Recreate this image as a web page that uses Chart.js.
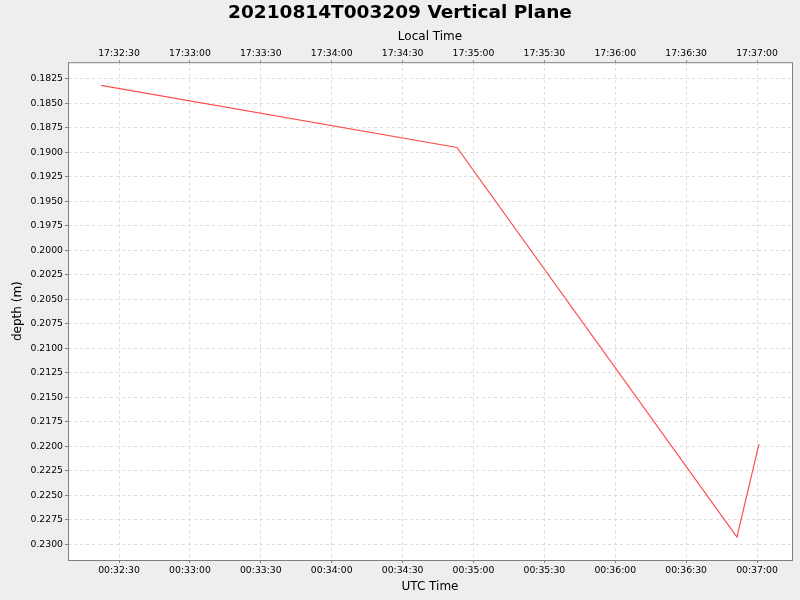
<!DOCTYPE html>
<html>
<head>
<meta charset="utf-8">
<script src="https://cdn.jsdelivr.net/npm/chart.js@4"></script>
<style>
  html, body { margin: 0; padding: 0; background: #eeeeee; }
  #wrap { width: 800px; height: 600px; }
</style>
</head>
<body>
<div id="wrap"><canvas id="myChart" width="800" height="600"></canvas></div>
<script>
// data
var utcTimes = ['00:32:22.4', '00:34:53.0', '00:36:51.5', '00:37:00.8'];
var depths = [0.18317, 0.18950, 0.22927, 0.21978];

var xTickLabels = ['00:32:30', '00:33:00', '00:33:30', '00:34:00', '00:34:30', '00:35:00', '00:35:30', '00:36:00', '00:36:30', '00:37:00'];
var yTickLabels = ['0.1825', '0.1850', '0.1875', '0.1900', '0.1925', '0.1950', '0.1975', '0.2000', '0.2025', '0.2050', '0.2075', '0.2100', '0.2125', '0.2150', '0.2175', '0.2200', '0.2225', '0.2250', '0.2275', '0.2300'];
var localOffsetHours = 17;

var xMin = '00:32:08.4';
var xMax = '00:37:14.8';
var yMin = 0.1808;
var yMax = 0.2316;

function toSec(s) {
    var p = s.split(':');
    return (+p[0]) * 3600 + (+p[1]) * 60 + parseFloat(p[2]);
}
function pad(n) { return (n < 10 ? '0' : '') + n; }
function fmt(sec, offH) {
    sec = Math.round(sec) + offH * 3600;
    var h = Math.floor(sec / 3600) % 24, m = Math.floor(sec / 60) % 60, s = sec % 60;
    return pad(h) + ':' + pad(m) + ':' + pad(s);
}

var points = utcTimes.map(function(t, i) {
    return { x: toSec(t), y: depths[i] };
});

var font = 'DejaVu Sans';
var tickSize = 9.3;

var plotBg = {
    id: 'plotBg',
    beforeDraw: function(chart) {
        var a = chart.chartArea, ctx = chart.ctx;
        ctx.save();
        ctx.fillStyle = '#ffffff';
        ctx.fillRect(a.left, a.top, a.right - a.left, a.bottom - a.top);
        ctx.restore();
    },
    afterDraw: function(chart) {
        var a = chart.chartArea, ctx = chart.ctx;
        ctx.save();
        ctx.strokeStyle = '#808080';
        ctx.lineWidth = 1;
        ctx.strokeRect(a.left + 0.5, a.top + 0.5, a.right - a.left, a.bottom - a.top);
        ctx.restore();
    }
};

var ctx = document.getElementById('myChart').getContext('2d');
var myChart = new Chart(ctx, {
    type: 'line',
    data: {
        datasets: [{
            label: 'depth',
            data: points,
            borderColor: '#ff4d4d',
            borderWidth: 1.2,
            pointRadius: 0,
            tension: 0,
            fill: false
        }]
    },
    plugins: [plotBg],
    options: {
        responsive: false,
        animation: false,
        layout: { padding: 0 },
        plugins: {
            legend: { display: false },
            tooltip: { enabled: false },
            title: {
                display: true,
                text: '20210814T003209 Vertical Plane',
                color: '#000000',
                font: { family: font, size: 18.5, weight: 'bold' },
                padding: { top: 2, bottom: 0 }
            }
        },
        scales: {
            x: {
                type: 'linear',
                position: 'bottom',
                min: toSec(xMin),
                max: toSec(xMax),
                afterBuildTicks: function(scale) {
                    scale.ticks = xTickLabels.map(function(l) { return { value: toSec(l) }; });
                },
                afterFit: function(scale) { scale.height = 40; },
                ticks: {
                    color: '#000000',
                    font: { family: font, size: tickSize },
                    maxRotation: 0,
                    autoSkip: false,
                    padding: 2,
                    callback: function(v) { return fmt(v, 0); }
                },
                grid: {
                    color: '#dcdcdc',
                    tickColor: '#808080',
                    tickLength: 3,
                    drawTicks: true
                },
                border: { display: false, dash: [3, 3] },
                title: {
                    display: true,
                    text: 'UTC Time',
                    color: '#000000',
                    font: { family: font, size: 12 },
                    padding: { top: 2, bottom: 6 }
                }
            },
            x2: {
                type: 'linear',
                position: 'top',
                min: toSec(xMin),
                max: toSec(xMax),
                afterBuildTicks: function(scale) {
                    scale.ticks = xTickLabels.map(function(l) { return { value: toSec(l) }; });
                },
                afterFit: function(scale) { scale.height = 38; },
                ticks: {
                    color: '#000000',
                    font: { family: font, size: tickSize },
                    maxRotation: 0,
                    autoSkip: false,
                    padding: 1,
                    callback: function(v) { return fmt(v, localOffsetHours); }
                },
                grid: {
                    drawOnChartArea: false,
                    tickColor: '#808080',
                    tickLength: 2
                },
                border: { display: false },
                title: {
                    display: true,
                    text: 'Local Time',
                    color: '#000000',
                    font: { family: font, size: 12 },
                    padding: { top: 5, bottom: 0 }
                }
            },
            y: {
                type: 'linear',
                reverse: true,
                min: yMin,
                max: yMax,
                afterBuildTicks: function(scale) {
                    scale.ticks = yTickLabels.map(function(l) { return { value: parseFloat(l) }; });
                },
                afterFit: function(scale) { scale.width = 68; },
                ticks: {
                    color: '#000000',
                    font: { family: font, size: tickSize },
                    autoSkip: false,
                    padding: 2,
                    callback: function(v) { return v.toFixed(4); }
                },
                grid: {
                    color: '#dcdcdc',
                    tickColor: '#808080',
                    tickLength: 3
                },
                border: { display: false, dash: [3, 3] },
                title: {
                    display: true,
                    text: 'depth (m)',
                    color: '#000000',
                    font: { family: font, size: 12 },
                    padding: { top: 11, bottom: 2 }
                }
            },
            // empty strip on the right so the plot ends 8px before the edge
            yRight: {
                type: 'linear',
                position: 'right',
                display: true,
                afterFit: function(scale) { scale.width = 8; },
                ticks: { display: false },
                grid: { display: false },
                border: { display: false }
            }
        }
    }
});
</script>
</body>
</html>
